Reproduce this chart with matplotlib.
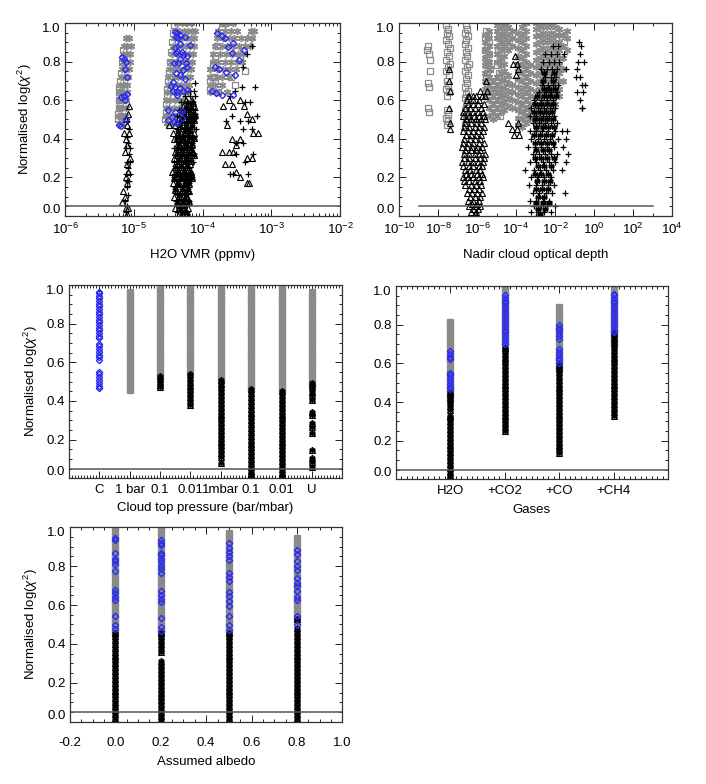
import matplotlib
matplotlib.use('Agg')
import matplotlib.pyplot as plt
from matplotlib.ticker import MultipleLocator, FixedLocator, FixedFormatter, LogLocator, NullFormatter

plt.rcParams['font.family'] = ['Liberation Sans', 'DejaVu Sans']
plt.rcParams['font.size'] = 9.5
plt.rcParams['mathtext.fontset'] = 'custom'
plt.rcParams['mathtext.rm'] = 'Liberation Sans'
plt.rcParams['mathtext.it'] = 'Liberation Sans:italic'
plt.rcParams['mathtext.bf'] = 'Liberation Sans:bold'

GRAY = '#8a8a8a'
BLUE = '#2b2bf0'

# ---------------- data -----------------
threshold = 0.05

# panel 1 : H2O VMR
vmr_sq_x = [5.8e-6, 5.9e-6, 6.0e-6, 6.1e-6, 6.0e-6, 6.2e-6, 6.3e-6, 6.5e-6, 6.8e-6, 7.0e-6, 6.3e-6, 6.6e-6,
            2.8e-5, 2.9e-5, 2.9e-5, 3.0e-5, 3.0e-5, 3.1e-5, 3.3e-5, 3.4e-5, 3.5e-5, 3.6e-5, 3.7e-5, 3.8e-5, 3.2e-5, 3.3e-5,
            1.3e-4, 1.3e-4, 1.4e-4, 1.5e-4, 1.4e-4, 1.5e-4, 1.6e-4, 1.8e-4, 1.9e-4, 2.1e-4, 3.2e-4, 3.5e-4, 4.6e-4,
            5.0e-4, 4.2e-4, 3.0e-4, 2.6e-4, 1.7e-4]
vmr_sq_y = [0.50, 0.53, 0.56, 0.60, 0.64, 0.67, 0.70, 0.74, 0.80, 0.86, 0.58, 0.52,
            0.50, 0.54, 0.58, 0.62, 0.66, 0.70, 0.75, 0.80, 0.85, 0.90, 0.95, 0.99, 0.52, 0.47,
            0.66, 0.70, 0.72, 0.70, 0.78, 0.83, 0.88, 0.93, 0.97, 1.00, 0.86, 0.82, 0.90,
            0.93, 0.75, 0.68, 0.72, 0.64]

vmr_ast_rows_y = [1.00, 0.96, 0.92, 0.88, 0.84, 0.80, 0.76, 0.72, 0.68, 0.64, 0.60, 0.56, 0.52, 0.48]
vmr_ast_rows_x = [
    [4.3e-5, 5.0e-5, 5.8e-5, 6.7e-5, 1.9e-4, 2.3e-4, 2.8e-4],
    [4.0e-5, 4.6e-5, 5.3e-5, 6.1e-5, 7.0e-5, 7.8e-5, 1.7e-4, 2.1e-4, 2.6e-4, 3.2e-4, 5.0e-4, 5.6e-4],
    [7.6e-6, 8.6e-6, 3.8e-5, 4.4e-5, 5.1e-5, 5.9e-5, 6.8e-5, 7.6e-5, 1.6e-4, 2.0e-4, 2.4e-4, 2.9e-4, 3.6e-4, 4.4e-4, 5.3e-4],
    [7.2e-6, 8.1e-6, 9.1e-6, 3.7e-5, 4.3e-5, 5.0e-5, 5.8e-5, 6.6e-5, 7.4e-5, 1.5e-4, 1.9e-4, 2.3e-4, 2.8e-4, 3.4e-4, 4.1e-4, 4.9e-4],
    [7.0e-6, 7.9e-6, 8.9e-6, 3.6e-5, 4.2e-5, 4.9e-5, 5.6e-5, 6.4e-5, 7.2e-5, 1.4e-4, 1.8e-4, 2.2e-4, 2.7e-4, 3.3e-4, 3.9e-4],
    [6.9e-6, 7.8e-6, 8.7e-6, 3.5e-5, 4.1e-5, 4.7e-5, 5.4e-5, 6.2e-5, 7.0e-5, 1.4e-4, 1.7e-4, 2.1e-4, 2.6e-4, 3.2e-4, 3.8e-4],
    [6.7e-6, 7.6e-6, 8.5e-6, 3.4e-5, 4.0e-5, 4.6e-5, 5.3e-5, 6.1e-5, 6.8e-5, 1.3e-4, 1.6e-4, 2.0e-4, 2.5e-4, 3.1e-4],
    [6.5e-6, 7.4e-6, 8.3e-6, 3.2e-5, 3.8e-5, 4.4e-5, 5.1e-5, 5.9e-5, 6.6e-5, 1.3e-4, 1.6e-4, 1.9e-4, 2.4e-4],
    [6.4e-6, 7.2e-6, 8.1e-6, 3.1e-5, 3.6e-5, 4.2e-5, 4.9e-5, 5.7e-5, 6.4e-5, 1.3e-4, 1.5e-4, 1.9e-4],
    [6.2e-6, 7.0e-6, 7.9e-6, 3.0e-5, 3.5e-5, 4.1e-5, 4.7e-5, 5.4e-5, 6.2e-5, 1.3e-4, 1.6e-4, 2.3e-4],
    [6.1e-6, 6.9e-6, 7.7e-6, 2.9e-5, 3.4e-5, 4.0e-5, 4.6e-5, 5.2e-5],
    [6.0e-6, 6.8e-6, 7.6e-6, 2.9e-5, 3.3e-5, 3.9e-5, 4.5e-5, 5.1e-5],
    [5.9e-6, 6.6e-6, 7.4e-6, 2.9e-5, 3.4e-5, 4.0e-5, 4.7e-5],
    [6.0e-6, 6.7e-6, 3.0e-5, 3.5e-5, 4.1e-5],
]

vmr_blue_x = [6.7e-6, 7.2e-6, 7.7e-6, 7.5e-6, 7.9e-6, 7.9e-6, 7.1e-6, 6.5e-6, 7.5e-6, 7.7e-6, 6.1e-6, 6.45e-6,
              3.98e-5, 4.31e-5, 4.71e-5, 4.12e-5, 4.45e-5, 5.56e-5, 6.58e-5, 4.71e-5, 3.98e-5, 4.31e-5, 4.98e-5,
              4.12e-5, 5.26e-5, 6.0e-5, 4.71e-5, 3.85e-5, 4.45e-5, 5.75e-5, 6.0e-5, 5.15e-5, 4.12e-5, 4.71e-5,
              5.56e-5, 3.76e-5, 3.44e-5, 3.98e-5, 4.71e-5, 3.68e-5, 4.31e-5, 5.26e-5, 6.0e-5, 4.31e-5, 3.18e-5,
              3.98e-5, 4.98e-5, 3.56e-5, 4.98e-5, 3.18e-5, 3.85e-5, 4.31e-5,
              1.64e-4, 1.90e-4, 2.12e-4, 2.81e-4, 2.38e-4, 4.02e-4, 2.66e-4, 3.43e-4, 1.52e-4, 1.76e-4, 2.2e-4,
              2.97e-4, 1.36e-4, 1.57e-4, 1.90e-4, 2.81e-4]
vmr_blue_y = [0.825, 0.811, 0.799, 0.760, 0.719, 0.632, 0.622, 0.615, 0.601, 0.501, 0.472, 0.467,
              0.955, 0.946, 0.938, 0.929, 0.920, 0.929, 0.886, 0.891, 0.869, 0.857, 0.851,
              0.843, 0.834, 0.829, 0.812, 0.794, 0.791, 0.791, 0.774, 0.757, 0.739, 0.731,
              0.708, 0.696, 0.674, 0.670, 0.661, 0.649, 0.644, 0.649, 0.653, 0.627, 0.549,
              0.541, 0.546, 0.515, 0.506, 0.498, 0.489, 0.484,
              0.946, 0.933, 0.920, 0.898, 0.874, 0.860, 0.843, 0.808, 0.774, 0.760, 0.744,
              0.731, 0.649, 0.639, 0.627, 0.627]

vmr_tri_rows_y = [0.60, 0.57, 0.53, 0.50, 0.47, 0.43, 0.40, 0.37, 0.33, 0.30, 0.27, 0.23, 0.20, 0.17,
                  0.13, 0.10, 0.07, 0.04, 0.01]
vmr_tri_rows_x = [
    [5.8e-5, 7.0e-5, 2.4e-4, 3.5e-4],
    [8.6e-6, 5.2e-5, 6.4e-5, 7.6e-5, 2.0e-4, 2.8e-4, 4.0e-4],
    [8.3e-6, 4.8e-5, 6.0e-5, 7.2e-5, 4.4e-4],
    [7.6e-6, 4.4e-5, 5.6e-5, 6.8e-5, 5.2e-4],
    [8.0e-6, 3.3e-5, 4.0e-5, 5.2e-5, 6.3e-5, 2.25e-4],
    [7.2e-6, 8.5e-6, 3.7e-5, 4.9e-5, 6.0e-5, 7.4e-5, 5.5e-4, 6.5e-4],
    [7.8e-6, 3.9e-5, 4.6e-5, 5.7e-5, 6.8e-5, 2.7e-4, 3.5e-4],
    [8.1e-6, 4.2e-5, 5.3e-5, 6.4e-5, 3.1e-4],
    [7.4e-6, 4.0e-5, 5.0e-5, 6.1e-5, 7.3e-5, 1.9e-4, 2.4e-4, 2.8e-4],
    [8.7e-6, 3.8e-5, 4.7e-5, 5.8e-5, 4.4e-4, 5.2e-4],
    [7.9e-6, 4.3e-5, 5.4e-5, 6.6e-5, 2.1e-4, 2.7e-4],
    [8.2e-6, 3.6e-5, 4.5e-5, 5.6e-5, 6.9e-5, 3.1e-4],
    [7.6e-6, 4.1e-5, 5.1e-5, 6.2e-5, 3.5e-4],
    [8.0e-6, 3.7e-5, 4.6e-5, 5.7e-5, 4.4e-4, 4.7e-4],
    [7.0e-6, 4.2e-5, 5.3e-5, 6.4e-5],
    [7.4e-6, 3.9e-5, 4.8e-5, 5.9e-5],
    [6.8e-6, 4.4e-5, 5.5e-5],
    [7.6e-6, 8.3e-6, 4.0e-5, 5.0e-5, 6.1e-5],
    [7.9e-6, 4.6e-5, 5.7e-5],
]
# dense core of the middle cluster
vmr_core_rows_y = [0.585, 0.555, 0.525, 0.495, 0.465, 0.435, 0.405, 0.375, 0.345, 0.315, 0.285, 0.255,
                   0.225, 0.195, 0.165, 0.135, 0.105, 0.075, 0.045, 0.015]
vmr_core_rows_x = [
    [6.2e-5, 7.3e-5],
    [5.7e-5, 6.8e-5],
    [5.4e-5, 6.5e-5, 7.8e-5],
    [5.0e-5, 6.1e-5, 7.5e-5],
    [4.7e-5, 5.8e-5, 7.1e-5],
    [4.4e-5, 5.5e-5, 6.6e-5],
    [4.3e-5, 5.2e-5, 6.3e-5, 7.6e-5],
    [4.6e-5, 5.8e-5, 7.0e-5],
    [4.4e-5, 5.4e-5, 6.7e-5],
    [4.2e-5, 5.1e-5, 6.2e-5, 7.4e-5],
    [4.6e-5, 5.7e-5, 6.9e-5],
    [4.0e-5, 4.9e-5, 6.0e-5],
    [4.3e-5, 5.3e-5, 6.5e-5],
    [3.9e-5, 4.8e-5, 5.9e-5, 7.1e-5],
    [4.4e-5, 5.5e-5, 6.3e-5],
    [4.0e-5, 5.0e-5, 6.1e-5],
    [4.6e-5, 5.7e-5],
    [4.2e-5, 5.2e-5, 6.3e-5],
    [4.5e-5, 5.4e-5],
    [5.0e-5, 6.0e-5],
]

vmr_plus_rows_y = [0.88, 0.84, 0.77, 0.69, 0.67, 0.65, 0.62, 0.59, 0.55, 0.52, 0.49, 0.45, 0.41, 0.38,
                   0.35, 0.32, 0.28, 0.25, 0.22, 0.18, 0.15, 0.11, 0.08, 0.05, 0.02]
vmr_plus_rows_x = [
    [5.2e-4],
    [4.4e-4],
    [3.9e-4],
    [7.9e-5],
    [3.7e-4, 5.8e-4],
    [6.6e-5, 7.4e-5, 3.0e-4],
    [5.5e-5, 6.5e-5, 7.7e-5, 2.5e-4],
    [4.9e-5, 6.0e-5, 7.0e-5, 4.2e-4, 4.9e-4],
    [4.5e-5, 5.4e-5, 6.6e-5, 7.8e-5],
    [4.2e-5, 5.0e-5, 6.2e-5, 7.3e-5, 2.7e-4, 6.1e-4],
    [8.1e-6, 4.6e-5, 5.8e-5, 6.9e-5, 2.2e-4, 3.5e-4, 4.6e-4],
    [8.4e-6, 4.3e-5, 5.3e-5, 6.4e-5, 8.0e-5, 3.9e-4, 5.2e-4],
    [7.9e-6, 4.1e-5, 5.0e-5, 6.1e-5, 7.1e-5],
    [8.2e-6, 4.5e-5, 5.6e-5, 6.7e-5, 3.1e-4, 3.9e-4],
    [7.7e-6, 8.9e-6, 3.8e-5, 4.8e-5, 5.9e-5, 7.0e-5],
    [8.6e-6, 4.3e-5, 5.3e-5, 6.4e-5, 3.1e-4, 5.5e-4],
    [8.0e-6, 8.8e-6, 3.9e-5, 4.9e-5, 6.0e-5, 7.2e-5, 4.2e-4],
    [8.3e-6, 4.2e-5, 5.2e-5, 6.3e-5],
    [7.8e-6, 8.9e-6, 3.8e-5, 4.7e-5, 5.8e-5, 6.8e-5, 2.5e-4, 2.8e-4, 4.6e-4],
    [8.1e-6, 8.6e-6, 4.3e-5, 5.4e-5, 6.5e-5],
    [7.9e-6, 4.0e-5, 5.0e-5, 6.0e-5],
    [8.2e-6, 4.5e-5, 5.6e-5],
    [7.5e-6, 4.1e-5, 5.2e-5, 6.2e-5],
    [8.0e-6, 4.7e-5, 5.8e-5],
    [7.8e-6, 4.3e-5, 5.4e-5],
]

# panel 2 : nadir cloud optical depth
tau_line_x = [1e-9, 1e3]
tau_sq_x = [3.0e-9, 2.7e-9, 3.4e-9, 3.7e-9, 4.0e-9, 3.0e-9, 3.4e-9, 3.1e-9, 3.6e-9,
            2.7e-8, 3.4e-8, 2.9e-8, 3.8e-8, 2.6e-8, 3.3e-8, 4.0e-8, 2.8e-8, 3.5e-8, 2.7e-8, 3.9e-8, 3.1e-8,
            2.6e-8, 3.6e-8, 2.9e-8, 3.3e-8, 2.7e-8, 3.8e-8, 3.0e-8, 2.8e-8, 3.4e-8, 2.7e-8, 3.1e-8, 2.9e-8,
            2.6e-7, 3.2e-7, 2.4e-7, 3.6e-7, 2.8e-7, 2.3e-7, 3.4e-7, 2.7e-7, 3.1e-7, 2.5e-7, 3.7e-7, 2.9e-7,
            2.4e-7, 3.3e-7, 2.6e-7, 3.0e-7, 2.3e-7, 3.5e-7, 2.8e-7, 2.5e-7, 3.2e-7, 2.7e-7, 2.4e-7, 3.0e-7,
            2.6e-7, 2.8e-7, 2.5e-7,
            3.0e-6, 3.6e-6, 2.7e-6, 4.2e-6, 3.2e-6, 2.6e-6, 3.9e-6, 3.0e-6, 3.5e-6, 2.8e-6, 4.4e-6, 3.3e-6,
            2.9e-6, 3.8e-6, 3.1e-6,
            1.6e-5, 2.4e-5, 3.4e-5, 1.3e-5, 2.0e-5, 2.8e-5, 1.2e-5, 1.5e-5, 1.1e-5, 1.4e-5, 1.0e-5, 1.3e-5,
            1.7e-5, 2.2e-5, 8e-5, 1.2e-4, 2e-4, 6e-5, 1.5e-5, 2.2e-2, 3.0e-2]
tau_sq_y = [0.88, 0.86, 0.84, 0.81, 0.75, 0.69, 0.67, 0.56, 0.54,
            0.99, 0.97, 0.95, 0.93, 0.91, 0.89, 0.87, 0.85, 0.83, 0.81, 0.79, 0.77,
            0.75, 0.73, 0.70, 0.68, 0.66, 0.64, 0.62, 0.55, 0.53, 0.51, 0.49, 0.47,
            0.99, 0.97, 0.95, 0.93, 0.91, 0.89, 0.87, 0.85, 0.83, 0.81, 0.79, 0.77,
            0.75, 0.73, 0.71, 0.69, 0.67, 0.65, 0.63, 0.61, 0.59, 0.57, 0.55, 0.53,
            0.51, 0.49, 0.47,
            0.96, 0.94, 0.92, 0.90, 0.88, 0.86, 0.84, 0.82, 0.80, 0.78, 0.76, 0.74,
            0.72, 0.70, 0.68,
            1.00, 0.98, 0.96, 0.94, 0.92, 0.90, 0.86, 0.82, 0.78, 0.74, 0.70, 0.66,
            0.62, 0.58, 0.62, 0.58, 0.55, 0.70, 0.52, 0.95, 0.90]

tau_ast_cols_x = [2.5e-6, 4.0e-6, 6.3e-6, 1.0e-5, 1.6e-5, 2.5e-5, 4.0e-5, 6.3e-5, 1.3e-4, 2.0e-4, 3.2e-4,
                  5.0e-4, 1.0e-3, 1.6e-3, 2.5e-3, 4.0e-3, 6.3e-3, 1.0e-2, 1.6e-2, 2.5e-2, 4.0e-2]
tau_ast_cols_y = [
    [0.62, 0.66, 0.70, 0.74, 0.78, 0.82, 0.86, 0.90, 0.94],
    [0.52, 0.56, 0.60, 0.64, 0.68, 0.72, 0.76, 0.80, 0.84, 0.88, 0.92, 0.96],
    [0.50, 0.54, 0.58, 0.62, 0.66, 0.70],
    [0.52, 0.56, 0.60, 0.64, 0.68, 0.72, 0.80, 0.84, 0.88, 0.92, 0.96, 0.99],
    [0.54, 0.58, 0.62, 0.66, 0.70, 0.74, 0.78, 0.82, 0.86, 0.90, 0.94, 0.98],
    [0.55, 0.59, 0.63, 0.67, 0.71, 0.75, 0.79, 0.83, 0.87, 0.91, 0.95, 0.99],
    [0.57, 0.61, 0.65, 0.69, 0.73, 0.86, 0.90, 0.94, 0.98],
    [0.56, 0.60, 0.64, 0.68, 0.88, 0.92, 0.96],
    [0.47, 0.51, 0.55, 0.59, 0.63, 0.67, 0.71, 0.75, 0.79, 0.83, 0.87, 0.91, 0.95],
    [0.46, 0.50, 0.54, 0.58, 0.62, 0.66, 0.70, 0.74, 0.78, 0.82, 0.86, 0.90, 0.94, 0.98],
    [0.48, 0.52, 0.56, 0.60, 0.64, 0.68, 0.72, 0.76, 0.80, 0.84, 0.88, 0.92, 0.96, 1.00],
    [0.50, 0.54, 0.58, 0.62, 0.66, 0.70, 0.74, 0.78],
    [0.45, 0.49, 0.53, 0.57, 0.61, 0.65, 0.69, 0.73, 0.77, 0.81, 0.85, 0.89, 0.93, 0.97, 1.00],
    [0.46, 0.50, 0.54, 0.58, 0.62, 0.66, 0.70, 0.74, 0.78, 0.82, 0.86, 0.90, 0.94, 0.98],
    [0.47, 0.51, 0.55, 0.59, 0.63, 0.67, 0.71, 0.75, 0.79, 0.83, 0.87, 0.91, 0.95, 0.99],
    [0.50, 0.54, 0.58, 0.62, 0.66, 0.70, 0.74, 0.78, 0.82, 0.86, 0.90, 0.94, 0.98],
    [0.55, 0.59, 0.63, 0.67, 0.71, 0.75, 0.79, 0.83, 0.87, 0.91, 0.95, 0.99],
    [0.58, 0.62, 0.66, 0.70, 0.74, 0.78, 0.82, 0.86, 0.90, 0.94, 0.98],
    [0.62, 0.66, 0.70, 0.74, 0.78, 0.82, 0.86, 0.90, 0.94, 0.97],
    [0.70, 0.76, 0.82, 0.88, 0.94],
    [0.86, 0.92, 0.96],
]

tau_tri_rows_y = [0.83, 0.79, 0.76, 0.73, 0.70, 0.65, 0.62, 0.60, 0.56, 0.52, 0.48, 0.45, 0.44, 0.42,
                  0.40, 0.36, 0.32, 0.28, 0.24, 0.20, 0.16, 0.12, 0.08, 0.05, 0.02, 0.00]
tau_tri_rows_x = [
    [9e-5],
    [7e-5, 1.1e-4],
    [3.6e-8, 1.3e-4],
    [1.0e-4],
    [3.8e-8, 3.0e-6],
    [4.0e-8, 1.4e-6, 3.3e-6],
    [6e-7, 3.5e-7, 2.5e-6],
    [3e-7, 6e-7, 1.3e-6],
    [3.5e-8, 2.5e-7, 4.5e-7, 8e-7, 1.6e-6],
    [2e-7, 3.8e-7, 7e-7, 1.2e-6, 2.2e-6],
    [3.9e-8, 2.5e-7, 5e-7, 9e-7, 1.6e-6, 4e-5, 1.2e-4],
    [4.2e-8, 6e-5, 1.1e-4],
    [1.8e-7, 3.5e-7, 6.5e-7, 1.1e-6, 2e-6],
    [8e-5, 1.4e-4],
    [2.2e-7, 4.2e-7, 8e-7, 1.4e-6],
    [1.6e-7, 3e-7, 5.5e-7, 1e-6, 1.8e-6],
    [2.1e-7, 4e-7, 7.5e-7, 1.3e-6, 2.5e-6],
    [1.7e-7, 3.3e-7, 6e-7, 1.1e-6, 2e-6],
    [2.3e-7, 4.5e-7, 8.5e-7, 1.5e-6],
    [1.9e-7, 3.6e-7, 6.5e-7, 1.2e-6, 2.1e-6],
    [2.5e-7, 5e-7, 9e-7, 1.6e-6],
    [3e-7, 5.5e-7, 1e-6, 1.8e-6],
    [3.5e-7, 6.5e-7, 1.2e-6],
    [4e-7, 8e-7, 1.4e-6],
    [5e-7, 9e-7],
    [7e-7],
]
tau_core_rows_y = [0.62, 0.58, 0.54, 0.50, 0.46, 0.42, 0.38, 0.34, 0.30, 0.26, 0.22, 0.18, 0.14, 0.10,
                   0.06, 0.035, 0.01]
tau_core_rows_x = [
    [4e-7, 9e-7, 1.9e-6],
    [3.4e-7, 6.5e-7, 1.1e-6, 2.4e-6],
    [1.9e-7, 3.3e-7, 6e-7, 1.1e-6, 2e-6],
    [2.8e-7, 5e-7, 9e-7, 1.6e-6, 2.6e-6],
    [2.2e-7, 4e-7, 7.5e-7, 1.3e-6, 2.3e-6],
    [2.6e-7, 5e-7, 9e-7, 1.6e-6],
    [1.9e-7, 3.6e-7, 6.5e-7, 1.2e-6, 2.2e-6],
    [2.5e-7, 4.8e-7, 8.5e-7, 1.5e-6],
    [2.2e-7, 4e-7, 7.5e-7, 1.4e-6, 2.3e-6],
    [2e-7, 3.7e-7, 6.5e-7, 1.2e-6, 1.9e-6],
    [2.8e-7, 5.2e-7, 9.5e-7, 1.7e-6],
    [2.2e-7, 4e-7, 7.5e-7, 1.4e-6],
    [3.8e-7, 7e-7, 1.3e-6],
    [4.5e-7, 8e-7, 1.5e-6],
    [5.5e-7, 1e-6],
    [6e-7, 1.1e-6],
    [8e-7],
]

tau_plus_rows_y = [0.90, 0.88, 0.84, 0.80, 0.76, 0.72, 0.68, 0.64, 0.60, 0.56, 0.52, 0.48, 0.44, 0.40,
                   0.36, 0.32, 0.28, 0.24, 0.20, 0.16, 0.12, 0.08, 0.05, 0.02, 0.00]
tau_plus_rows_x = [
    [1.6e-1],
    [8e-3, 1.4e-2, 2.2e-1],
    [3e-3, 6e-3, 1.2e-2, 3e-2, 1.9e-1],
    [2.5e-3, 5e-3, 9e-3, 1.6e-2, 1.5e-1, 3.2e-1],
    [2e-3, 4e-3, 7e-3, 1.3e-2, 3.5e-2, 1.3e-1],
    [3e-3, 6e-3, 1.1e-2, 2.0e-1, 1.2e-1],
    [2.2e-3, 4.5e-3, 8e-3, 1.5e-2, 3.5e-1, 2.5e-1],
    [1.5e-3, 3.5e-3, 6.5e-3, 1.2e-2, 1.4e-1, 2.6e-1],
    [8e-4, 1.8e-3, 4e-3, 8e-3, 1.8e-1],
    [6e-4, 1.3e-3, 2.8e-3, 5.5e-3, 1.0e-2, 2.3e-1, 2.5e-1],
    [5e-4, 1.1e-3, 2.4e-3, 4.8e-3, 9e-3],
    [7e-4, 1.5e-3, 3e-3, 6e-3, 1.3e-2],
    [5e-4, 1e-3, 2.2e-3, 4.5e-3, 1.0e-2, 2.2e-2, 4e-2],
    [6e-4, 1.3e-3, 2.8e-3, 5.5e-3, 1.4e-2, 3.5e-2],
    [4e-4, 9e-4, 2e-3, 4e-3, 9e-3, 2.5e-2],
    [7e-4, 1.5e-3, 3.2e-3, 6.5e-3, 1.2e-2, 4.5e-2],
    [5e-4, 1.1e-3, 2.3e-3, 5e-3, 1.0e-2, 3.8e-2],
    [3e-4, 8e-4, 1.7e-3, 3.6e-3, 7.5e-3, 2.3e-2],
    [6e-4, 1.3e-3, 2.8e-3, 6e-3],
    [4.5e-4, 1e-3, 2.2e-3, 4.5e-3, 9e-3],
    [7e-4, 1.5e-3, 3.3e-3, 7e-3, 3.3e-2],
    [5e-4, 1.1e-3, 2.5e-3, 5e-3],
    [8e-4, 1.8e-3, 3.8e-3, 1e-2],
    [6e-4, 1.3e-3, 2.8e-3, 6e-3],
    [1e-3, 2e-3],
]
tau_pcore_rows_y = [0.74, 0.70, 0.66, 0.62, 0.58, 0.54, 0.50, 0.46, 0.42, 0.38, 0.34, 0.30, 0.26, 0.22,
                    0.18, 0.14, 0.10, 0.065, 0.035, 0.01]
tau_pcore_rows_x = [
    [2.8e-3, 9e-3],
    [2.5e-3, 8e-3],
    [2.8e-3, 5e-3, 1e-2],
    [1.2e-3, 2.8e-3, 5.5e-3, 1.1e-2],
    [9e-4, 1.9e-3, 4e-3, 7.5e-3],
    [8e-4, 1.7e-3, 3.5e-3, 7e-3],
    [9e-4, 2e-3, 4e-3, 8e-3],
    [1.1e-3, 2.3e-3, 4.5e-3, 9e-3],
    [8e-4, 1.7e-3, 3.5e-3, 7e-3],
    [9e-4, 1.9e-3, 4e-3, 8e-3],
    [1.1e-3, 2.5e-3, 5e-3],
    [9e-4, 1.9e-3, 4e-3, 8.5e-3],
    [1.3e-3, 2.8e-3, 6e-3],
    [9e-4, 2e-3, 4.2e-3],
    [1.2e-3, 2.6e-3, 5.5e-3],
    [1e-3, 2.1e-3, 4.6e-3],
    [1.3e-3, 2.8e-3],
    [1.1e-3, 2.4e-3, 5e-3],
    [1.4e-3, 3e-3],
    [1.6e-3],
]

# panel 3 : cloud top pressure
ctp_pos = [1, 2, 3, 4, 5, 6, 7, 8]
ctp_labels = ['C', '1 bar', '0.1', '0.01', '1mbar', '0.1', '0.01', 'U']
ctp_blue_y = [0.467, 0.48, 0.495, 0.51, 0.525, 0.54, 0.552, 0.612, 0.625, 0.64, 0.655, 0.668, 0.682, 0.695,
              0.724, 0.737, 0.752, 0.766, 0.779, 0.793, 0.807, 0.821, 0.835, 0.849, 0.862, 0.876, 0.89,
              0.904, 0.918, 0.931, 0.945, 0.958, 0.965]
ctp_gray_pos = [2, 3, 4, 5, 6, 7, 8]
ctp_gray_y = [
    [0.457, 0.475, 0.495, 0.515, 0.535, 0.552, 0.572, 0.59, 0.61, 0.63, 0.65, 0.67, 0.688, 0.70, 0.716,
     0.735, 0.755, 0.775, 0.795, 0.815, 0.835, 0.855, 0.875, 0.895, 0.915, 0.935, 0.952, 0.965],
    [0.53, 0.55, 0.57, 0.59, 0.61, 0.63, 0.65, 0.67, 0.69, 0.71, 0.73, 0.75, 0.77, 0.79, 0.81, 0.83,
     0.85, 0.87, 0.89, 0.91, 0.93, 0.95, 0.97, 0.99, 1.0],
    [0.55, 0.57, 0.59, 0.61, 0.63, 0.65, 0.67, 0.69, 0.71, 0.73, 0.75, 0.77, 0.79, 0.81, 0.83, 0.85,
     0.87, 0.89, 0.91, 0.93, 0.95, 0.97, 0.99, 1.0],
    [0.51, 0.53, 0.55, 0.57, 0.59, 0.61, 0.63, 0.65, 0.67, 0.69, 0.71, 0.73, 0.75, 0.77, 0.79, 0.81,
     0.83, 0.85, 0.87, 0.89, 0.91, 0.93, 0.95, 0.97, 0.99, 1.0],
    [0.46, 0.48, 0.50, 0.52, 0.54, 0.56, 0.58, 0.60, 0.62, 0.64, 0.66, 0.68, 0.70, 0.72, 0.74, 0.76,
     0.78, 0.80, 0.82, 0.84, 0.86, 0.88, 0.90, 0.92, 0.94, 0.96, 0.98, 1.0],
    [0.45, 0.47, 0.49, 0.51, 0.53, 0.55, 0.57, 0.59, 0.61, 0.63, 0.65, 0.67, 0.69, 0.71, 0.73, 0.75,
     0.77, 0.79, 0.81, 0.83, 0.85, 0.87, 0.89, 0.91, 0.93, 0.95, 0.97, 0.99, 1.0],
    [0.475, 0.495, 0.515, 0.535, 0.555, 0.575, 0.59, 0.612, 0.63, 0.65, 0.67, 0.69, 0.71, 0.728, 0.745,
     0.765, 0.785, 0.805, 0.825, 0.845, 0.865, 0.885, 0.905, 0.925, 0.945, 0.965],
]
ctp_black_pos = [3, 4, 5, 6, 7, 8]
ctp_black_y = [
    [0.47, 0.485, 0.50, 0.515, 0.53],
    [0.38, 0.40, 0.42, 0.44, 0.46, 0.48, 0.50, 0.52, 0.54],
    [0.078, 0.112, 0.13, 0.15, 0.17, 0.19, 0.21, 0.23, 0.25, 0.27, 0.29, 0.31, 0.33, 0.35, 0.37, 0.39,
     0.41, 0.43, 0.45, 0.47, 0.49, 0.51],
    [0.0, 0.02, 0.04, 0.06, 0.08, 0.10, 0.12, 0.14, 0.16, 0.18, 0.20, 0.22, 0.24, 0.26, 0.28, 0.30,
     0.32, 0.34, 0.36, 0.38, 0.40, 0.42, 0.44, 0.46],
    [0.01, 0.03, 0.05, 0.07, 0.09, 0.11, 0.13, 0.15, 0.17, 0.19, 0.21, 0.23, 0.25, 0.27, 0.29, 0.31,
     0.33, 0.35, 0.37, 0.39, 0.41, 0.43, 0.45],
    [0.06, 0.086, 0.103, 0.147, 0.233, 0.267, 0.284, 0.328, 0.345, 0.405, 0.431, 0.448, 0.474, 0.491],
]

# panel 4 : gases
gas_pos = [1, 2, 3, 4]
gas_labels = ['H2O', '+CO2', '+CO', '+CH4']
gas_gray_y = [
    [0.41, 0.43, 0.45, 0.47, 0.49, 0.51, 0.53, 0.55, 0.57, 0.59, 0.61, 0.63, 0.65, 0.67, 0.69, 0.71,
     0.73, 0.75, 0.77, 0.79, 0.805, 0.816],
    [0.69, 0.71, 0.73, 0.75, 0.77, 0.79, 0.81, 0.83, 0.85, 0.87, 0.89, 0.91, 0.93, 0.95, 0.97, 0.99, 1.0],
    [0.57, 0.59, 0.61, 0.63, 0.65, 0.67, 0.69, 0.71, 0.73, 0.75, 0.77, 0.79, 0.81, 0.83, 0.85, 0.87, 0.89],
    [0.70, 0.72, 0.74, 0.76, 0.78, 0.80, 0.82, 0.84, 0.86, 0.88, 0.90, 0.92, 0.94, 0.96, 0.98, 1.0],
]
gas_blue_y = [
    [0.465, 0.48, 0.495, 0.51, 0.525, 0.54, 0.55, 0.62, 0.635, 0.65, 0.665],
    [0.70, 0.715, 0.73, 0.745, 0.76, 0.775, 0.79, 0.805, 0.82, 0.835, 0.85, 0.865, 0.88, 0.895, 0.91,
     0.925, 0.94, 0.955],
    [0.60, 0.615, 0.63, 0.645, 0.66, 0.675, 0.725, 0.74, 0.755, 0.77, 0.785, 0.80],
    [0.76, 0.775, 0.79, 0.805, 0.82, 0.835, 0.85, 0.865, 0.88, 0.895, 0.91, 0.925, 0.94, 0.955, 0.96],
]
gas_black_y = [
    [0.0, 0.02, 0.04, 0.06, 0.08, 0.10, 0.12, 0.14, 0.16, 0.18, 0.20, 0.22, 0.24, 0.26, 0.28, 0.30,
     0.32, 0.33, 0.36, 0.38, 0.40, 0.42, 0.44, 0.45],
    [0.25, 0.27, 0.29, 0.31, 0.33, 0.35, 0.37, 0.39, 0.41, 0.43, 0.45, 0.47, 0.49, 0.51, 0.53, 0.55,
     0.57, 0.59, 0.61, 0.63, 0.65, 0.67, 0.68],
    [0.135, 0.155, 0.175, 0.195, 0.215, 0.235, 0.255, 0.275, 0.295, 0.315, 0.335, 0.355, 0.375, 0.395,
     0.415, 0.435, 0.455, 0.475, 0.495, 0.515, 0.535, 0.555, 0.575, 0.59],
    [0.33, 0.35, 0.37, 0.39, 0.41, 0.43, 0.45, 0.47, 0.49, 0.51, 0.53, 0.55, 0.57, 0.59, 0.61, 0.63,
     0.65, 0.67, 0.69, 0.71, 0.73, 0.755],
]

# panel 5 : albedo
alb_pos = [0.0, 0.2, 0.5, 0.8]
alb_gray_y = [
    [0.455, 0.475, 0.495, 0.515, 0.535, 0.555, 0.575, 0.595, 0.615, 0.635, 0.655, 0.675, 0.695, 0.715,
     0.735, 0.755, 0.775, 0.795, 0.815, 0.835, 0.855, 0.875, 0.895, 0.915, 0.935, 0.955, 0.975, 0.995],
    [0.455, 0.475, 0.495, 0.515, 0.535, 0.555, 0.575, 0.595, 0.615, 0.635, 0.655, 0.675, 0.695, 0.715,
     0.735, 0.755, 0.775, 0.795, 0.815, 0.835, 0.855, 0.875, 0.895, 0.915, 0.935, 0.955, 0.975, 0.995],
    [0.455, 0.475, 0.495, 0.515, 0.535, 0.555, 0.575, 0.595, 0.615, 0.635, 0.655, 0.675, 0.695, 0.715,
     0.735, 0.755, 0.775, 0.795, 0.815, 0.835, 0.855, 0.875, 0.895, 0.915, 0.935, 0.955, 0.97],
    [0.52, 0.54, 0.56, 0.58, 0.60, 0.62, 0.64, 0.66, 0.68, 0.70, 0.72, 0.74, 0.76, 0.78, 0.80, 0.82,
     0.84, 0.86, 0.88, 0.90, 0.92, 0.945],
]
alb_blue_y = [
    [0.943, 0.934, 0.869, 0.838, 0.826, 0.809, 0.774, 0.679, 0.662, 0.641, 0.624, 0.541, 0.498, 0.476],
    [0.934, 0.921, 0.907, 0.869, 0.855, 0.838, 0.821, 0.80, 0.783, 0.766, 0.671, 0.653, 0.631, 0.614,
     0.533, 0.486, 0.464],
    [0.917, 0.895, 0.872, 0.852, 0.831, 0.766, 0.745, 0.722, 0.666, 0.645, 0.619, 0.597, 0.541, 0.498, 0.472],
    [0.883, 0.860, 0.826, 0.803, 0.779, 0.740, 0.714, 0.697, 0.671, 0.641, 0.624, 0.541, 0.498],
]
alb_black_y = [
    [0.0, 0.02, 0.04, 0.06, 0.08, 0.10, 0.12, 0.14, 0.16, 0.18, 0.20, 0.22, 0.24, 0.26, 0.28, 0.30,
     0.32, 0.34, 0.36, 0.38, 0.40, 0.42, 0.44, 0.455],
    [0.01, 0.03, 0.05, 0.07, 0.09, 0.11, 0.13, 0.15, 0.17, 0.19, 0.21, 0.23, 0.25, 0.27, 0.29, 0.31,
     0.36, 0.38, 0.40, 0.42, 0.44, 0.455],
    [0.0, 0.02, 0.04, 0.06, 0.08, 0.10, 0.12, 0.14, 0.16, 0.18, 0.20, 0.22, 0.24, 0.26, 0.28, 0.30,
     0.32, 0.34, 0.36, 0.38, 0.40, 0.42, 0.44, 0.455],
    [0.0, 0.02, 0.04, 0.06, 0.08, 0.10, 0.12, 0.14, 0.16, 0.18, 0.20, 0.22, 0.24, 0.26, 0.28, 0.30,
     0.32, 0.34, 0.36, 0.38, 0.40, 0.42, 0.44, 0.46, 0.48, 0.528],
]

# ---------------- styles -----------------
SQ = dict(ls='none', marker='s', ms=3.8, mfc='none', mec=GRAY, mew=0.9)
SQF = dict(ls='none', marker='s', ms=4.0, mfc=GRAY, mec=GRAY, mew=0.9)
AST = dict(ls='none', marker=(6, 2, 0), ms=5.2, color=GRAY, mew=1.1)
DIA = dict(ls='none', marker='D', ms=3.2, mfc='none', mec=BLUE, mew=1.0)
TRI = dict(ls='none', marker='^', ms=4.2, mfc='none', mec='k', mew=0.8)
PLUS = dict(ls='none', marker='+', ms=4.6, color='k', mew=0.9)
BAST = dict(ls='none', marker=(6, 2, 0), ms=4.4, color='k', mew=1.0)
LINE = dict(color='#555555', lw=1.1)


def rows(ys, xs):
    fx, fy = [], []
    for y, xr in zip(ys, xs):
        fx += list(xr)
        fy += [y] * len(xr)
    return fx, fy


def cols(xs, ys):
    fx, fy = [], []
    for x, yc in zip(xs, ys):
        fx += [x] * len(yc)
        fy += list(yc)
    return fx, fy


def setup(ax, xpad):
    ax.set_ylim(0, 1)
    ax.yaxis.set_major_locator(FixedLocator([0, 0.2, 0.4, 0.6, 0.8, 1.0]))
    ax.yaxis.set_major_formatter(FixedFormatter(['0.0', '0.2', '0.4', '0.6', '0.8', '1.0']))
    ax.yaxis.set_minor_locator(MultipleLocator(0.05))
    ax.tick_params(which='both', direction='in', top=True, right=True, width=0.7, color='#222222')
    ax.tick_params(which='major', length=5)
    ax.tick_params(which='minor', length=2.5)
    ax.tick_params(axis='y', which='major', pad=3)
    ax.tick_params(axis='x', which='major', pad=xpad)
    for s in ax.spines.values():
        s.set_linewidth(0.9)
        s.set_color('#333333')
    labs = ax.get_yticklabels()
    labs[0].set_va('bottom')
    labs[-1].set_va('top')


def column_panel(ax, gx, gy, bx, by):
    x, y = cols(gx, gy)
    ax.plot(x, y, **SQF)
    ax.plot(x, y, **AST)
    x, y = cols(bx, by)
    ax.plot(x, y, **PLUS)
    ax.plot(x, y, **TRI)
    ax.plot(x, y, **BAST)


fig = plt.figure(figsize=(7.06, 7.84), dpi=100)
ax1 = fig.add_axes([0.0921, 0.7245, 0.3895, 0.2462])
ax2 = fig.add_axes([0.5652, 0.7245, 0.3867, 0.2462])
ax3 = fig.add_axes([0.0977, 0.3899, 0.3871, 0.2466])
ax4 = fig.add_axes([0.5605, 0.3886, 0.3857, 0.2466])
ax5 = fig.add_axes([0.0992, 0.0795, 0.3857, 0.2480])

ylab = r'Normalised log($\chi^2$)'

# --- panel 1
ax1.set_xscale('log')
ax1.plot(vmr_sq_x, vmr_sq_y, **SQ)
x, y = rows(vmr_ast_rows_y, vmr_ast_rows_x)
ax1.plot(x, y, **AST)
x, y = rows(vmr_tri_rows_y, vmr_tri_rows_x)
ax1.plot(x, y, **TRI)
x, y = rows(vmr_core_rows_y, vmr_core_rows_x)
ax1.plot(x, y, **TRI)
ax1.plot(x, y, **BAST)
x, y = rows(vmr_plus_rows_y, vmr_plus_rows_x)
ax1.plot(x, y, **PLUS)
ax1.plot(vmr_blue_x, vmr_blue_y, **DIA)
ax1.axhline(threshold, **LINE)
ax1.set_xlim(1e-6, 1e-2)
ax1.xaxis.set_major_locator(FixedLocator([1e-6, 1e-5, 1e-4, 1e-3, 1e-2]))
ax1.xaxis.set_minor_locator(LogLocator(base=10, subs=[2, 3, 4, 5, 6, 7, 8, 9]))
ax1.xaxis.set_minor_formatter(NullFormatter())
setup(ax1, 4)
ax1.set_xlabel('H2O VMR (ppmv)')
ax1.set_ylabel(ylab)

# --- panel 2
ax2.set_xscale('log')
ax2.plot(tau_sq_x, tau_sq_y, **SQ)
x, y = cols(tau_ast_cols_x, tau_ast_cols_y)
ax2.plot(x, y, **AST)
x, y = rows(tau_tri_rows_y, tau_tri_rows_x)
ax2.plot(x, y, **TRI)
x, y = rows(tau_core_rows_y, tau_core_rows_x)
ax2.plot(x, y, **TRI)
x, y = rows(tau_plus_rows_y, tau_plus_rows_x)
ax2.plot(x, y, **PLUS)
x, y = rows(tau_pcore_rows_y, tau_pcore_rows_x)
ax2.plot(x, y, **PLUS)
ax2.plot(x, y, **BAST)
ax2.plot(tau_line_x, [threshold, threshold], **LINE)
ax2.set_xlim(1e-10, 1e4)
ax2.xaxis.set_major_locator(FixedLocator([1e-10, 1e-8, 1e-6, 1e-4, 1e-2, 1e0, 1e2, 1e4]))
ax2.xaxis.set_minor_locator(FixedLocator([1e-9, 1e-7, 1e-5, 1e-3, 1e-1, 1e1, 1e3]))
ax2.xaxis.set_minor_formatter(NullFormatter())
setup(ax2, 4)
ax2.set_xlabel('Nadir cloud optical depth')

# --- panel 3
column_panel(ax3, ctp_gray_pos, ctp_gray_y, ctp_black_pos, ctp_black_y)
ax3.plot([ctp_pos[0]] * len(ctp_blue_y), ctp_blue_y, **DIA)
ax3.axhline(threshold, **LINE)
ax3.set_xlim(0, 9)
ax3.xaxis.set_major_locator(FixedLocator(ctp_pos))
ax3.xaxis.set_major_formatter(FixedFormatter(ctp_labels))
ax3.xaxis.set_minor_locator(MultipleLocator(0.1))
setup(ax3, 4)
ax3.set_xlabel('Cloud top pressure (bar/mbar)')
ax3.set_ylabel(ylab)

# --- panel 4
column_panel(ax4, gas_pos, gas_gray_y, gas_pos, gas_black_y)
x, y = cols(gas_pos, gas_blue_y)
ax4.plot(x, y, **DIA)
ax4.axhline(threshold, **LINE)
ax4.set_xlim(0, 5)
ax4.xaxis.set_major_locator(FixedLocator(gas_pos))
ax4.xaxis.set_major_formatter(FixedFormatter(gas_labels))
ax4.xaxis.set_minor_locator(MultipleLocator(0.1))
setup(ax4, 4)
ax4.set_xlabel('Gases')

# --- panel 5
column_panel(ax5, alb_pos, alb_gray_y, alb_pos, alb_black_y)
x, y = cols(alb_pos, alb_blue_y)
ax5.plot(x, y, **DIA)
ax5.axhline(threshold, **LINE)
ax5.set_xlim(-0.2, 1.0)
ax5.xaxis.set_major_locator(FixedLocator([-0.2, 0.0, 0.2, 0.4, 0.6, 0.8, 1.0]))
ax5.xaxis.set_major_formatter(FixedFormatter(['-0.2', '0.0', '0.2', '0.4', '0.6', '0.8', '1.0']))
ax5.xaxis.set_minor_locator(MultipleLocator(0.05))
setup(ax5, 11)
ax5.set_xlabel('Assumed albedo')
ax5.set_ylabel(ylab)

ax1.xaxis.set_label_coords(0.5, -0.17)
ax2.xaxis.set_label_coords(0.5, -0.17)
ax3.xaxis.set_label_coords(0.5, -0.125)
ax4.xaxis.set_label_coords(0.5, -0.125)
ax5.xaxis.set_label_coords(0.5, -0.175)
ax1.yaxis.set_label_coords(-0.112, 0.5)
ax3.yaxis.set_label_coords(-0.107, 0.5)
ax5.yaxis.set_label_coords(-0.112, 0.5)

fig.savefig('out.png', dpi=100)
